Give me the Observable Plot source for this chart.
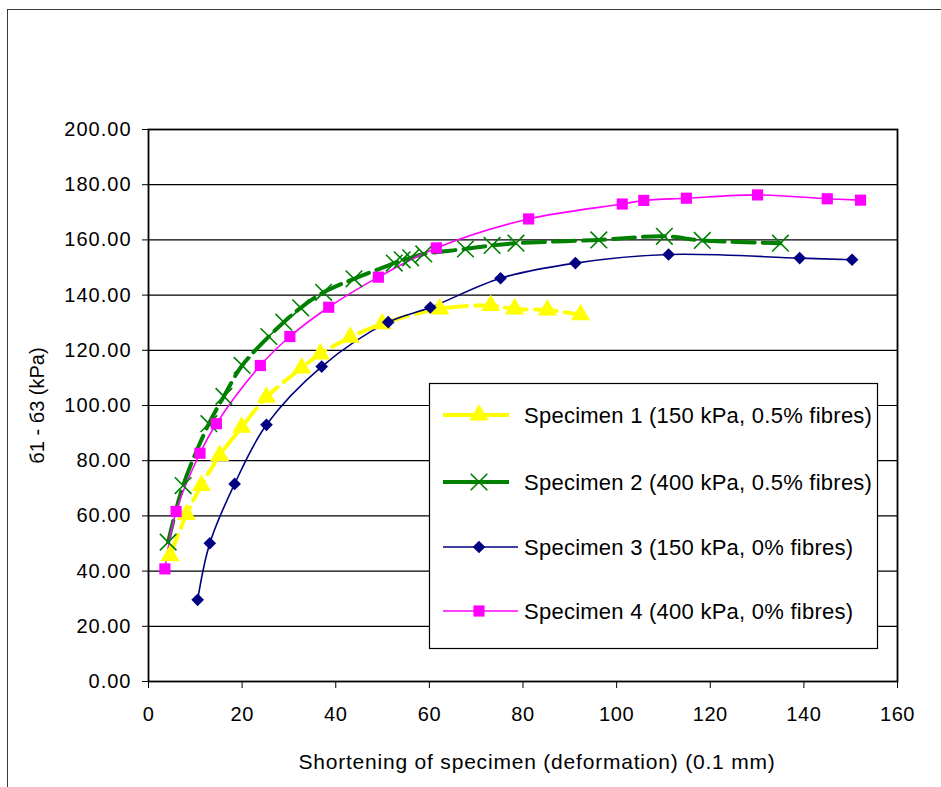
<!DOCTYPE html>
<html><head><meta charset="utf-8">
<script src="https://cdn.jsdelivr.net/npm/d3@7"></script>
<script src="https://cdn.jsdelivr.net/npm/@observablehq/plot@0.6"></script>
<style>
body{margin:0;background:#fff;}
#wrap{position:relative;width:941px;height:787px;overflow:hidden;background:#fff;}
#frame{position:absolute;left:7px;top:9px;width:1000px;height:900px;border:1.5px solid #3a3a3a;box-sizing:border-box;}
#chart{position:absolute;left:0;top:0;}
#chart svg text{font-family:"Liberation Sans",Arial,sans-serif;}
#chart g[aria-label="y-axis tick label"] text{letter-spacing:1px;}
#chart g[aria-label="x-axis tick label"] text{letter-spacing:0.6px;}
</style></head><body>
<div id="wrap"><div id="frame"></div><div id="chart"></div></div>
<script>
// ---- data ----
const xTicks = [0, 20, 40, 60, 80, 100, 120, 140, 160];
const yTicks = [0, 20, 40, 60, 80, 100, 120, 140, 160, 180, 200];
const yTitle = "б1 - б3 (kPa)";
const xTitle = "Shortening of specimen (deformation) (0.1 mm)";
const seriesNames = [
  "Specimen 1 (150 kPa, 0.5% fibres)",
  "Specimen 2 (400 kPa, 0.5% fibres)",
  "Specimen 3 (150 kPa, 0% fibres)",
  "Specimen 4 (400 kPa, 0% fibres)"
];
const s1x = [4.6, 8.1, 11.3, 15.2, 19.9, 25.2, 32.7, 36.7, 43.1, 49.9, 62.2, 73.1, 78.2, 85.2, 92.3];
const s1y = [45.6, 60.5, 71.0, 81.9, 92.1, 103.0, 113.6, 118.7, 124.7, 129.6, 135.0, 136.2, 135.0, 134.6, 132.9];
const s2x = [4.2, 7.4, 12.9, 16.1, 20.0, 25.7, 28.9, 32.5, 37.4, 43.9, 52.5, 54.2, 56.0, 58.8, 67.7, 73.4, 78.5, 96.2, 110.2, 118.3, 135.0];
const s2y = [50.5, 71.0, 93.4, 103.3, 114.5, 125.0, 130.2, 135.4, 141.0, 145.9, 151.6, 152.8, 153.5, 154.9, 156.7, 158.0, 158.8, 160.0, 161.3, 159.8, 158.8];
const s3x = [10.5, 13.1, 18.4, 25.2, 37.0, 51.2, 60.2, 75.2, 91.2, 111.1, 139.1, 150.3];
const s3y = [29.6, 50.1, 71.6, 93.0, 114.1, 130.2, 135.5, 146.1, 151.6, 154.7, 153.4, 152.8];
const s4x = [3.5, 5.9, 11.0, 14.5, 23.9, 30.2, 38.5, 49.1, 61.5, 81.2, 101.2, 105.8, 114.9, 130.1, 145.0, 152.1];
const s4y = [40.8, 61.6, 82.7, 93.4, 114.5, 125.0, 135.6, 146.5, 157.1, 167.6, 173.0, 174.3, 175.1, 176.3, 174.9, 174.4];

// ---- styles ----
const styles = [
  {color: "#FFFF00", width: 4, dash: "22,8", symbol: "triangle", r: 7.1, stroked: false},
  {color: "#008000", width: 4, dash: "22,8", symbol: "times", r: 7.6, stroked: true},
  {color: "#000080", width: 1.6, dash: null, symbol: "diamond2", r: 5.7, stroked: false},
  {color: "#FF00FF", width: 1.6, dash: null, symbol: "square", r: 6.3, stroked: false}
];
const xs = [s1x, s2x, s3x, s4x], ys = [s1y, s2y, s3y, s4y];
const rows = xs.map((arr, k) => arr.map((x, i) => ({x, y: ys[k][i]})));

const seriesMarks = [];
rows.forEach((data, k) => {
  const s = styles[k];
  seriesMarks.push(Plot.line(data, {x: "x", y: "y", stroke: s.color, strokeWidth: s.width,
    strokeDasharray: s.dash || undefined, curve: "catmull-rom"}));
});
rows.forEach((data, k) => {
  const s = styles[k];
  seriesMarks.push(s.stroked
    ? Plot.dot(data, {x: "x", y: "y", symbol: s.symbol, r: s.r, stroke: s.color, strokeWidth: 1.6, fill: "none"})
    : Plot.dot(data, {x: "x", y: "y", symbol: s.symbol, r: s.r, fill: s.color, stroke: "none"}));
});

const plot = Plot.plot({
  width: 941, height: 787,
  marginLeft: 148, marginRight: 44, marginTop: 129, marginBottom: 106,
  style: {fontFamily: "Liberation Sans, Arial, sans-serif", fontSize: "20px", color: "#000", background: "transparent"},
  x: {domain: [0, 160]},
  y: {domain: [0, 200]},
  marks: [
    Plot.ruleY(yTicks.filter(d => d > 0), {stroke: "#000", strokeWidth: 1.2}),
    Plot.frame({stroke: "#000", strokeWidth: 1.8}),
    Plot.axisY({ticks: yTicks, tickFormat: d3.format(".2f"), tickSize: 6, tickPadding: 11, label: null, fontSize: 20}),
    Plot.axisX({ticks: xTicks, tickSize: 7, tickPadding: 18, label: null, fontSize: 20}),
    Plot.text([yTitle], {text: d => d, frameAnchor: "left", textAnchor: "middle", dx: -111, rotate: -90, fontSize: 20, fill: "#000"}),
    Plot.text([xTitle], {text: d => d, frameAnchor: "bottom", textAnchor: "middle", dx: 14, dy: 87, fontSize: 21, fill: "#000"}),
    ...seriesMarks
  ]
});
document.getElementById("chart").appendChild(plot);
d3.select(plot).selectAll('g[aria-label="text"]').filter(function () {
  return d3.select(this).text() === xTitle;
}).style("letter-spacing", "0.8px");

// ---- legend ----
const svg = d3.select(plot);
const lg = svg.append("g").attr("text-anchor", "start");
lg.append("rect").attr("x", 429.5).attr("y", 383.5).attr("width", 448).attr("height", 265)
  .attr("fill", "#fff").attr("stroke", "#000").attr("stroke-width", 1.2);
const rowY = [415, 482, 547, 611];
const symMap = {triangle: d3.symbolTriangle, times: d3.symbolTimes, diamond2: d3.symbolDiamond2, square: d3.symbolSquare};
seriesNames.forEach((name, k) => {
  const s = styles[k];
  const y = rowY[k];
  const x0 = 443, x1 = s.dash ? 509 : 518;
  lg.append("line").attr("x1", x0).attr("x2", x1).attr("y1", y).attr("y2", y)
    .attr("stroke", s.color).attr("stroke-width", s.width);
  const p = lg.append("path").attr("transform", `translate(479,${y})`)
    .attr("d", d3.symbol(symMap[s.symbol], s.r * s.r * Math.PI)());
  if (s.stroked) p.attr("fill", "none").attr("stroke", s.color).attr("stroke-width", 1.6);
  else p.attr("fill", s.color);
  lg.append("text").attr("x", 524).attr("y", y + 7.5).attr("font-size", 22)
    .attr("text-anchor", "start")
    .attr("letter-spacing", "0.25px").attr("fill", "#000").text(name);
});
</script>
</body></html>
